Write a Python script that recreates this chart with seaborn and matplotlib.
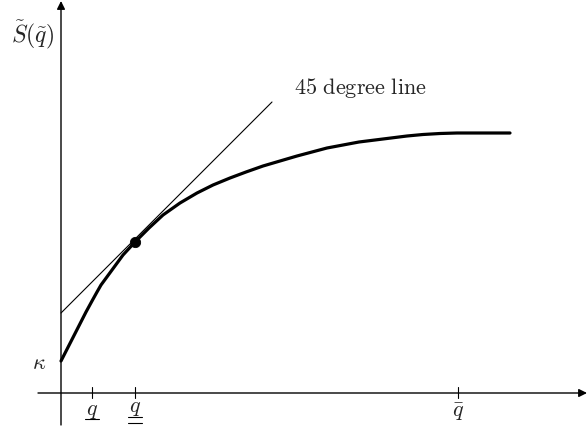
import numpy as np
import pandas as pd
import matplotlib
matplotlib.use("Agg")
import matplotlib.pyplot as plt
import seaborn as sn

# curve S(q) (origin at the axis crossing)
curve_x = [0, 25, 31, 36, 40, 51, 62, 74, 88, 102, 119, 136, 152, 169, 185, 202, 219, 236, 251, 266, 282, 298,
           314, 330, 346, 362, 379, 396, 449]
curve_y = [32, 81, 92, 101, 108, 123, 138, 151, 165, 178, 190, 200, 208, 215, 221, 227, 232, 237, 241, 245, 248, 251,
           253, 255, 257, 258.5, 259.5, 260, 260]

line45_x = [0, 211]
line45_y = [80, 291]

point_x = [74]
point_y = [151]

tick_pos = [31, 74, 397]
kappa_y = 31

sn.set_style("white")
plt.rcParams['mathtext.fontset'] = 'cm'
plt.rcParams['font.family'] = ['DejaVu Serif']

fig = plt.figure(figsize=(5.87, 4.29), dpi=100)
ax = fig.add_axes([0, 0, 1, 1])
ax.set_xlim(-61, 526)
ax.set_ylim(-36, 393)
ax.axis('off')

# axes with arrows
ax.annotate('', xy=(526, 0), xytext=(-23, 0),
            arrowprops=dict(arrowstyle='-|>', color='black', lw=1.0, mutation_scale=12, shrinkA=0, shrinkB=0))
ax.annotate('', xy=(0, 392), xytext=(0, -32),
            arrowprops=dict(arrowstyle='-|>', color='black', lw=1.0, mutation_scale=12, shrinkA=0, shrinkB=0))

sn.lineplot(x=line45_x, y=line45_y, ax=ax, color='black', lw=0.8)
df = pd.DataFrame({'q': curve_x, 'S': curve_y})
sn.lineplot(data=df, x='q', y='S', ax=ax, color='black', lw=2.3, sort=False)
sn.scatterplot(x=point_x, y=point_y, ax=ax, color='black', s=55, zorder=5, edgecolor='black')

for t in tick_pos:
    ax.plot([t, t], [-5, 6], color='black', lw=0.8)

fs = 16
ax.text(-28, 358, r'$\tilde{S}(\tilde{q})$', fontsize=17, ha='center', va='center')
ax.text(-22, 30, r'$\kappa$', fontsize=fs, ha='center', va='center')
ax.text(tick_pos[0], -17, r'$q$', fontsize=fs, ha='center', va='center')
ax.plot([tick_pos[0] - 7, tick_pos[0] + 7], [-26, -26], color='black', lw=0.8)
ax.text(tick_pos[1], -14, r'$q$', fontsize=fs, ha='center', va='center')
ax.plot([tick_pos[1] - 7, tick_pos[1] + 7], [-24, -24], color='black', lw=0.8)
ax.plot([tick_pos[1] - 7, tick_pos[1] + 7], [-30, -30], color='black', lw=0.8)
ax.text(tick_pos[2], -19, r'$\bar{q}$', fontsize=fs, ha='center', va='center')
ax.text(233, 305, r'$\mathrm{45\ degree\ line}$', fontsize=16, ha='left', va='center')

fig.savefig('out.png', dpi=100)
